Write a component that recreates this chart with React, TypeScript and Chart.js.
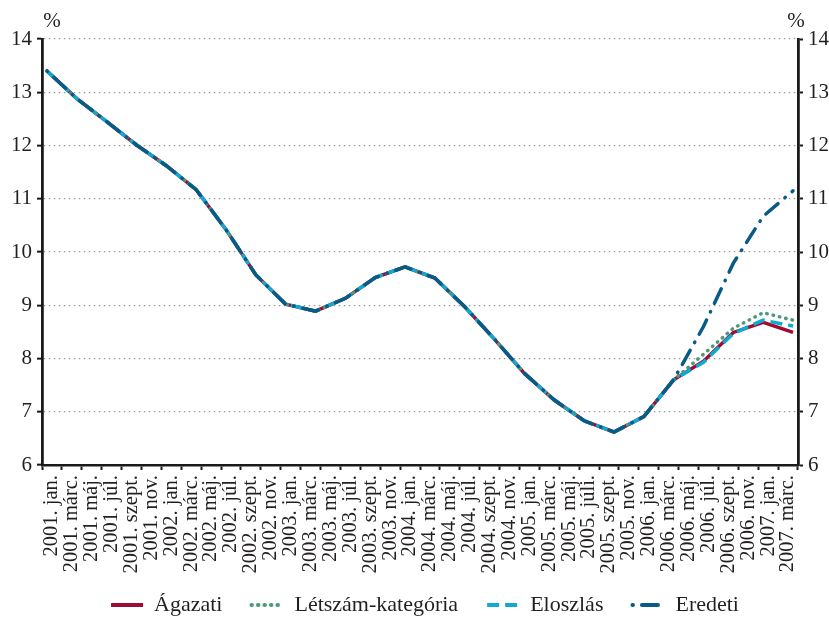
import React, { useEffect, useRef } from "react";
import { Chart, registerables, ChartConfiguration, Plugin } from "chart.js";

Chart.register(...registerables);

const FONT = "'Liberation Serif', 'DejaVu Serif', serif";
const TEXT = "#231f20";

// x axis labels, each one covers two months
const X_LABELS = [
  "2001. jan.", "2001. márc.", "2001. máj.", "2001. júl.", "2001. szept.", "2001. nov.",
  "2002. jan.", "2002. márc.", "2002. máj.", "2002. júl.", "2002. szept.", "2002. nov.",
  "2003. jan.", "2003. márc.", "2003. máj.", "2003. júl.", "2003. szept.", "2003. nov.",
  "2004. jan.", "2004. márc.", "2004. máj.", "2004. júl.", "2004. szept.", "2004. nov.",
  "2005. jan.", "2005. márc.", "2005. máj.", "2005. júli.", "2005. szept.", "2005. nov.",
  "2006. jan.", "2006. márc.", "2006. máj.", "2006. júl.", "2006. szept.", "2006. nov.",
  "2007. jan.", "2007. márc.",
];

// the series are quarterly (first month of each quarter)
const QUARTERS = [
  "2001. I.", "2001. II.", "2001. III.", "2001. IV.",
  "2002. I.", "2002. II.", "2002. III.", "2002. IV.",
  "2003. I.", "2003. II.", "2003. III.", "2003. IV.",
  "2004. I.", "2004. II.", "2004. III.", "2004. IV.",
  "2005. I.", "2005. II.", "2005. III.", "2005. IV.",
  "2006. I.", "2006. II.", "2006. III.", "2006. IV.",
  "2007. I.", "2007. II.",
];

const AGAZATI = [
  13.40, 12.88, 12.45, 12.01, 11.62, 11.17, 10.42, 9.57, 9.02, 8.89, 9.13, 9.52, 9.72,
  9.51, 8.97, 8.36, 7.72, 7.22, 6.83, 6.62, 6.91, 7.60, 7.95, 8.49, 8.68, 8.49,
];
const LETSZAM = [
  13.40, 12.88, 12.45, 12.01, 11.62, 11.17, 10.42, 9.57, 9.02, 8.89, 9.13, 9.52, 9.72,
  9.51, 8.97, 8.36, 7.72, 7.22, 6.83, 6.62, 6.91, 7.60, 8.08, 8.57, 8.86, 8.72,
];
const ELOSZLAS = [
  13.40, 12.88, 12.45, 12.01, 11.62, 11.17, 10.42, 9.57, 9.02, 8.89, 9.13, 9.52, 9.72,
  9.51, 8.97, 8.36, 7.72, 7.22, 6.83, 6.62, 6.91, 7.60, 7.93, 8.47, 8.72, 8.61,
];
const EREDETI = [
  13.40, 12.88, 12.45, 12.01, 11.62, 11.17, 10.42, 9.57, 9.02, 8.89, 9.13, 9.52, 9.72,
  9.51, 8.97, 8.36, 7.72, 7.22, 6.83, 6.62, 6.91, 7.60, 8.60, 9.79, 10.67, 11.15,
];

const toPoints = (values: number[]) =>
  values.map((y, i) => ({ x: i * 3, y, q: QUARTERS[i] }));

// "%" above both y axes
const percentSigns: Plugin = {
  id: "percentSigns",
  afterDraw(chart) {
    const { ctx, chartArea, scales } = chart;
    ctx.save();
    ctx.font = `21px ${FONT}`;
    ctx.fillStyle = TEXT;
    ctx.textAlign = "center";
    ctx.textBaseline = "middle";
    ctx.fillText("%", scales.y.right + 10, chartArea.top - 18);
    ctx.fillText("%", scales.y2.left - 2, chartArea.top - 18);
    ctx.restore();
  },
};

// the legend row in the original sits a bit right of centre
const legendShift: Plugin = {
  id: "legendShift",
  afterLayout(chart) {
    const legend: any = (chart as any).legend;
    if (!legend) return;
    legend.left += 16;
    legend.right += 16;
  },
};

export default function App() {
  const canvasRef = useRef<HTMLCanvasElement | null>(null);

  useEffect(() => {
    if (!canvasRef.current) return;

    const yTicks = {
      color: TEXT,
      font: { family: FONT, size: 21 },
      padding: 5,
      stepSize: 1,
    };

    const config: ChartConfiguration<"line"> = {
      type: "line",
      data: {
        datasets: [
          {
            label: "Ágazati",
            data: toPoints(AGAZATI),
            borderColor: "#9e0b35",
            backgroundColor: "#9e0b35",
            borderWidth: 3.5,
            order: 4,
          },
          {
            label: "Létszám-kategória",
            data: toPoints(LETSZAM),
            borderColor: "#4e9a78",
            backgroundColor: "#4e9a78",
            borderWidth: 3.5,
            borderDash: [0.5, 6],
            borderCapStyle: "round",
            order: 3,
          },
          {
            label: "Eloszlás",
            data: toPoints(ELOSZLAS),
            borderColor: "#12a9d1",
            backgroundColor: "#12a9d1",
            borderWidth: 3.5,
            borderDash: [12, 6],
            order: 2,
          },
          {
            label: "Eredeti",
            data: toPoints(EREDETI),
            borderColor: "#0a5a86",
            backgroundColor: "#0a5a86",
            borderWidth: 3.5,
            borderDash: [16, 9, 0.5, 9],
            borderDashOffset: 25,
            borderCapStyle: "round",
            order: 1,
          },
        ],
      },
      options: {
        animation: false,
        responsive: true,
        maintainAspectRatio: false,
        layout: { padding: { top: 39, left: 0, right: 0, bottom: 0 } },
        elements: { point: { radius: 0 }, line: { tension: 0 } },
        plugins: {
          tooltip: { enabled: false },
          legend: {
            position: "bottom",
            labels: {
              color: TEXT,
              font: { family: FONT, size: 22 },
              usePointStyle: true,
              pointStyle: "line",
              pointStyleWidth: 32,
              padding: 18,
              sort: (a, b) => (a.datasetIndex ?? 0) - (b.datasetIndex ?? 0),
              generateLabels: (chart) =>
                Chart.defaults.plugins.legend.labels
                  .generateLabels(chart)
                  .map((item) => {
                    const ds: any = chart.data.datasets[item.datasetIndex ?? 0];
                    return {
                      ...item,
                      text: item.text + "  ",
                      lineWidth: 4,
                      lineDash: ds.borderDash || [],
                      lineDashOffset: ds.borderDashOffset || 0,
                      lineCap: ds.borderCapStyle || "butt",
                    };
                  }),
            },
          },
        },
        scales: {
          x: {
            type: "linear",
            min: -0.5,
            max: 75.5,
            bounds: "data",
            afterBuildTicks: (axis) => {
              axis.ticks = X_LABELS.map((_, i) => ({ value: i * 2 + 0.5 }));
            },
            afterFit: (axis) => {
              axis.height = 111;
            },
            ticks: {
              autoSkip: false,
              minRotation: 90,
              maxRotation: 90,
              padding: 5,
              color: TEXT,
              font: { family: FONT, size: 20.5 },
              callback: (_v, i) => X_LABELS[i],
            },
            grid: {
              offset: true,
              drawOnChartArea: false,
              tickLength: 5,
              tickColor: "#1a1a1a",
              tickWidth: 2,
              color: "#1a1a1a",
            },
            border: { display: true, color: "#1a1a1a", width: 2.5 },
          },
          y: {
            position: "left",
            min: 6,
            max: 14,
            afterFit: (axis) => {
              axis.width = 42;
            },
            ticks: yTicks,
            grid: {
              color: (ctx) =>
                ctx.tick && ctx.tick.value === 6 ? "rgba(0,0,0,0)" : "#9a9a9a",
              lineWidth: 1.3,
              tickLength: 5,
              tickColor: "#1a1a1a",
              tickWidth: 2,
            },
            border: { display: true, color: "#1a1a1a", width: 2.8, dash: [1.5, 3.5] },
          },
          y2: {
            position: "right",
            min: 6,
            max: 14,
            afterFit: (axis) => {
              axis.width = 31;
            },
            ticks: yTicks,
            grid: {
              drawOnChartArea: false,
              tickLength: 5,
              tickColor: "#1a1a1a",
              tickWidth: 2,
              color: "#1a1a1a",
            },
            border: { display: true, color: "#1a1a1a", width: 2.8 },
          },
        },
      },
      plugins: [percentSigns, legendShift],
    };

    const chart = new Chart(canvasRef.current, config);
    return () => chart.destroy();
  }, []);

  return (
    <div
      style={{
        position: "fixed",
        left: 0,
        top: 0,
        width: 829,
        height: 619,
        overflow: "hidden",
        background: "#fff",
      }}
    >
      <div style={{ position: "relative", width: 829, height: 626 }}>
        <canvas ref={canvasRef} />
      </div>
    </div>
  );
}
